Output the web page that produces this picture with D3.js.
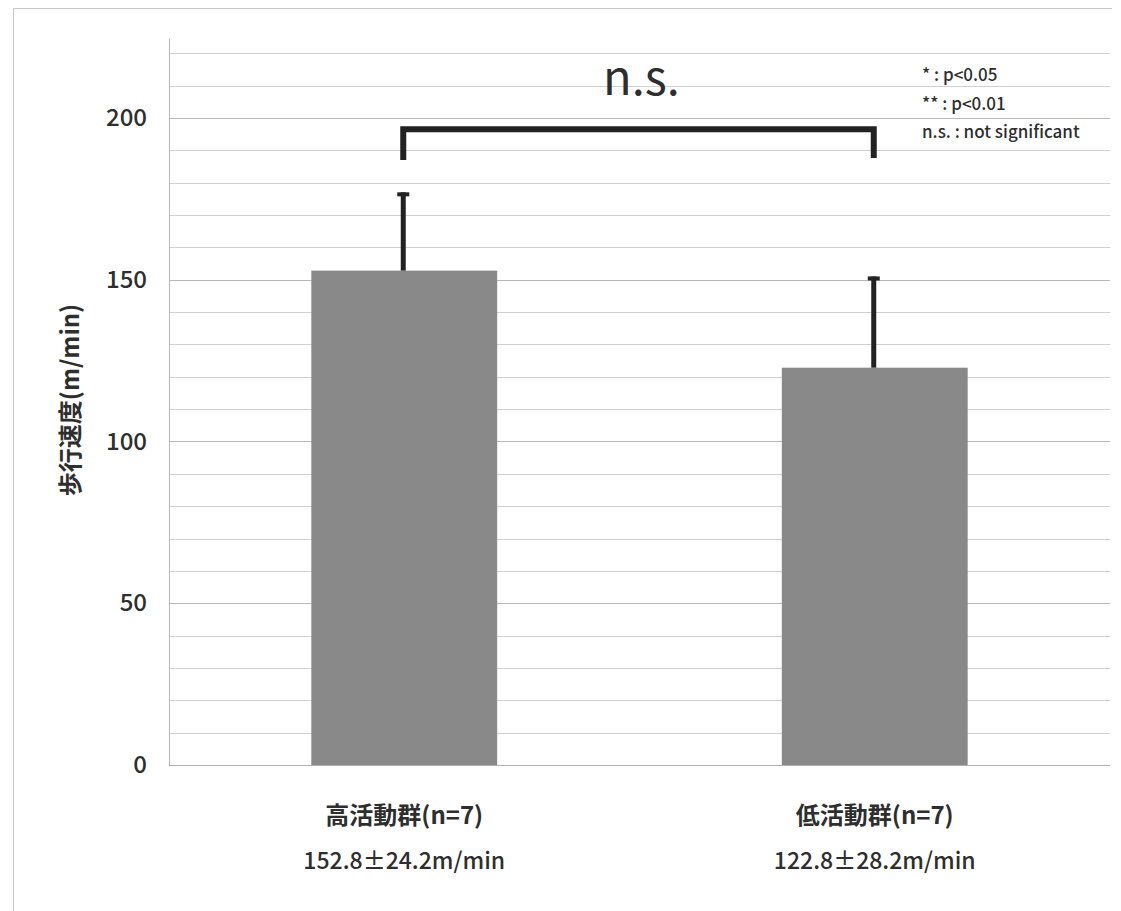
<!DOCTYPE html>
<html>
<head>
<meta charset="utf-8">
<script src="https://cdn.jsdelivr.net/npm/d3@7"></script>
<style>
  body { margin: 0; background: #fff; }
  text { font-family: "Noto Sans CJK JP", "Noto Sans", sans-serif; fill: #2e2e2e; }
</style>
</head>
<body>
<div id="chart"></div>
<script>
// chart data
var categories = ["高活動群(n=7)", "低活動群(n=7)"];
var means = [152.8, 122.8];
var sds = [24.2, 28.2];
var subLabels = ["152.8±24.2m/min", "122.8±28.2m/min"];
var yTicks = [0, 50, 100, 150, 200];
var legendLines = ["* : p<0.05", "** : p<0.01", "n.s. : not significant"];

var svgWidth = 1121;
var svgHeight = 911;
var margin = { top: 38, right: 11, bottom: 146, left: 169 };
var width = svgWidth - margin.left - margin.right;
var height = svgHeight - margin.top - margin.bottom;

var svg = d3.select("#chart")
  .append("svg")
  .attr("width", svgWidth)
  .attr("height", svgHeight);

// outer frame (top and left edges only)
svg.append("path")
  .attr("d", "M13.5,911 L13.5,8.5 L1112,8.5")
  .attr("fill", "none")
  .attr("stroke", "#c8c8c8");

var chartGroup = svg.append("g")
  .attr("transform", `translate(${margin.left}, ${margin.top})`);

var x = d3.scaleBand()
  .domain(categories)
  .range([0, width])
  .paddingInner(0.605)
  .paddingOuter(0.3025);

var y = d3.scaleLinear()
  .domain([0, 224.7])
  .range([height, 0]);

// gridlines every 10
var gridVals = d3.range(10, 230, 10);
chartGroup.append("g")
  .selectAll("line")
  .data(gridVals)
  .enter()
  .append("line")
  .attr("x1", 0).attr("x2", width)
  .attr("y1", d => Math.round(y(d)) + 0.5)
  .attr("y2", d => Math.round(y(d)) + 0.5)
  .attr("stroke", d => d % 50 === 0 ? "#b8b8b8" : "#d0d0d0")
  .attr("stroke-width", 1);

// y axis
var leftAxis = d3.axisLeft(y).tickValues(yTicks).tickSize(0).tickPadding(22);
var yAxisG = chartGroup.append("g").call(leftAxis);
yAxisG.select(".domain").attr("stroke", "#b8b8b8");
yAxisG.selectAll("text")
  .style("font-size", "24px")
  .style("font-weight", "500")
  .attr("fill", "#2e2e2e");

// x baseline
chartGroup.append("line")
  .attr("x1", 0).attr("x2", width)
  .attr("y1", height + 0.5).attr("y2", height + 0.5)
  .attr("stroke", "#b0b0b0");

// bars
chartGroup.selectAll(".bar")
  .data(means)
  .enter()
  .append("rect")
  .attr("class", "bar")
  .attr("x", (d, i) => x(categories[i]))
  .attr("y", d => y(d))
  .attr("width", x.bandwidth())
  .attr("height", d => height - y(d))
  .attr("fill", "#898989");

// error bars (upper only)
var cx = i => x(categories[i]) + x.bandwidth() / 2 - 1;
chartGroup.selectAll(".err")
  .data(means)
  .enter()
  .append("line")
  .attr("class", "err")
  .attr("x1", (d, i) => cx(i)).attr("x2", (d, i) => cx(i))
  .attr("y1", d => y(d))
  .attr("y2", (d, i) => y(d + sds[i]))
  .attr("stroke", "#222")
  .attr("stroke-width", 5);
chartGroup.selectAll(".cap")
  .data(means)
  .enter()
  .append("line")
  .attr("class", "cap")
  .attr("x1", (d, i) => cx(i) - 6).attr("x2", (d, i) => cx(i) + 6)
  .attr("y1", (d, i) => y(d + sds[i]) + 2)
  .attr("y2", (d, i) => y(d + sds[i]) + 2)
  .attr("stroke", "#222")
  .attr("stroke-width", 4);

// significance bracket
var bY = y(196.5);
var x0 = cx(0), x1 = cx(1);
chartGroup.append("path")
  .attr("d", `M${x0},${y(187)} L${x0},${bY} L${x1},${bY} L${x1},${y(187.6)}`)
  .attr("fill", "none")
  .attr("stroke", "#222")
  .attr("stroke-width", 6);
chartGroup.append("text")
  .attr("x", (x0 + x1) / 2 + 3)
  .attr("y", y(207))
  .attr("text-anchor", "middle")
  .style("font-size", "47px")
  .style("font-weight", "400")
  .text("n.s.");

// legend
svg.selectAll(".legend")
  .data(legendLines)
  .enter()
  .append("text")
  .attr("class", "legend")
  .attr("x", 922)
  .attr("y", (d, i) => 81 + i * 28.5)
  .style("font-size", "17px")
  .style("font-weight", "500")
  .text(d => d);

// x labels
chartGroup.selectAll(".cat")
  .data(categories)
  .enter()
  .append("text")
  .attr("class", "cat")
  .attr("x", d => x(d) + x.bandwidth() / 2)
  .attr("y", height + 59)
  .attr("text-anchor", "middle")
  .style("font-size", "24px")
  .style("font-weight", "bold")
  .text(d => d);
chartGroup.selectAll(".sub")
  .data(subLabels)
  .enter()
  .append("text")
  .attr("class", "sub")
  .attr("x", (d, i) => x(categories[i]) + x.bandwidth() / 2)
  .attr("y", height + 104)
  .attr("text-anchor", "middle")
  .style("font-size", "23px")
  .style("font-weight", "500")
  .text(d => d);

// y title
svg.append("text")
  .attr("transform", "translate(79, 400) rotate(-90)")
  .attr("text-anchor", "middle")
  .style("font-size", "24px")
  .style("font-weight", "bold")
  .text("歩行速度(m/min)");
</script>
</body>
</html>
